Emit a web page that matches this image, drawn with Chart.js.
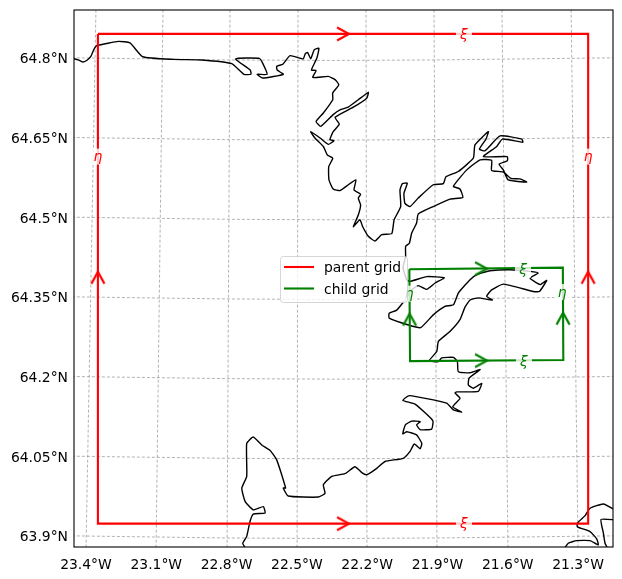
<!DOCTYPE html>
<html>
<head>
<meta charset="utf-8">
<style>
  html, body { margin: 0; padding: 0; background: #fff; }
  canvas { display: block; }
</style>
<script src="https://cdn.jsdelivr.net/npm/chart.js@4"></script>
</head>
<body>
<canvas id="myChart" width="622" height="579"></canvas>
<script>
// axis ticks
const xTicks = [-23.4, -23.1, -22.8, -22.5, -22.2, -21.9, -21.6, -21.3];
const xTickLabels = ['23.4°W', '23.1°W', '22.8°W', '22.5°W', '22.2°W', '21.9°W', '21.6°W', '21.3°W'];
const yTicks = [63.9, 64.05, 64.2, 64.35, 64.5, 64.65, 64.8];
const yTickLabels = ['63.9°N', '64.05°N', '64.2°N', '64.35°N', '64.5°N', '64.65°N', '64.8°N'];

// graticule, the meridians lean and the parallels sag a little
const meridianTop = [-23.357, -23.071, -22.785, -22.495, -22.205, -21.915, -21.625, -21.330];
const meridianBottom = [-23.4, -23.101, -22.798, -22.499, -22.201, -21.902, -21.599, -21.300];
const parallelLon = [-23.46, -22.8, -22.35, -21.9, -21.14];
const parallel639 = [63.9, 63.896, 63.895, 63.896, 63.9];
const parallel6405 = [64.05, 64.046, 64.045, 64.046, 64.05];
const parallel642 = [64.2, 64.196, 64.195, 64.196, 64.2];
const parallel6435 = [64.35, 64.346, 64.345, 64.346, 64.35];
const parallel645 = [64.5, 64.496, 64.495, 64.496, 64.5];
const parallel6465 = [64.65, 64.646, 64.645, 64.646, 64.65];
const parallel648 = [64.8, 64.796, 64.795, 64.796, 64.8];

// coastline
const coastLon = [-23.46, -23.433, -23.414, -23.397, -23.380, -23.366, -23.354, -23.312, -23.262, -23.212,
  -23.158, -23.027, -22.906, -22.778, -22.726, -22.696, -22.699, -22.761, -22.660, -22.646,
  -22.627, -22.669, -22.646, -22.558, -22.584, -22.586, -22.560, -22.529, -22.473, -22.464,
  -22.454, -22.441, -22.426, -22.406, -22.415, -22.438, -22.418, -22.432, -22.366, -22.337,
  -22.321, -22.347, -22.347, -22.387, -22.418, -22.398, -22.345, -22.316, -22.281, -22.238,
  -22.195, -22.202, -22.259, -22.337, -22.319, -22.345, -22.359, -22.342, -22.366, -22.401,
  -22.441, -22.423, -22.387, -22.370, -22.347, -22.364, -22.363, -22.345, -22.316, -22.287,
  -22.248, -22.256, -22.228, -22.238, -22.228, -22.238, -22.259, -22.231, -22.219, -22.195,
  -22.167, -22.138, -22.095, -22.085, -22.057, -22.060, -22.050, -22.029, -22.043, -22.039,
  -22.017, -21.982, -21.918, -21.875, -21.864, -21.811, -21.747, -21.740, -21.683, -21.693,
  -21.721, -21.697, -21.633, -21.540, -21.536, -21.623, -21.647, -21.704, -21.602, -21.602,
  -21.637, -21.619, -21.598, -21.519, -21.548, -21.587, -21.619, -21.669, -21.669, -21.718,
  -21.775, -21.832, -21.804, -21.792, -21.846, -21.918, -21.982, -21.989, -22.010, -22.020,
  -22.036, -22.036, -22.047, -22.031, -22.017, -21.946, -21.871, -21.910, -21.946, -21.982,
  -22.010, -22.039, -22.074, -22.106, -22.106, -22.024, -21.972, -21.918, -21.868, -21.832,
  -21.811, -21.761, -21.726, -21.676, -21.590, -21.505, -21.470, -21.505, -21.462, -21.434,
  -21.465, -21.491, -21.619, -21.669, -21.690, -21.666, -21.726, -21.761, -21.782, -21.804,
  -21.846, -21.896, -21.903, -21.935, -21.896, -21.882, -21.832, -21.815, -21.811, -21.761,
  -21.718, -21.765, -21.768, -21.747, -21.711, -21.726, -21.818, -21.825, -21.804, -21.835,
  -21.797, -21.832, -21.861, -22.020, -22.048, -21.996, -21.920, -21.925, -21.974, -21.989,
  -21.974, -22.010, -22.037, -22.048, -22.031, -21.989, -21.967, -21.974, -21.999, -22.017,
  -22.046, -22.124, -22.159, -22.202, -22.223, -22.252, -22.295, -22.351, -22.387, -22.380,
  -22.409, -22.537, -22.558, -22.548, -22.586, -22.615, -22.650, -22.686, -22.714, -22.714,
  -22.735, -22.721, -22.686, -22.643, -22.636, -22.686, -22.700, -22.714, -22.731, -22.717];
const coastLat = [64.799, 64.796, 64.792, 64.795, 64.802, 64.816, 64.823, 64.827, 64.831, 64.828,
  64.802, 64.797, 64.796, 64.789, 64.769, 64.769, 64.777, 64.798, 64.799, 64.790,
  64.769, 64.769, 64.762, 64.769, 64.777, 64.784, 64.788, 64.804, 64.798, 64.808,
  64.810, 64.798, 64.815, 64.818, 64.799, 64.777, 64.776, 64.763, 64.765, 64.759,
  64.749, 64.734, 64.721, 64.696, 64.680, 64.671, 64.693, 64.702, 64.707, 64.721,
  64.735, 64.724, 64.707, 64.688, 64.675, 64.661, 64.646, 64.644, 64.637, 64.649,
  64.661, 64.649, 64.633, 64.617, 64.611, 64.595, 64.570, 64.553, 64.550, 64.559,
  64.570, 64.551, 64.543, 64.536, 64.523, 64.504, 64.482, 64.495, 64.482, 64.464,
  64.455, 64.467, 64.469, 64.495, 64.520, 64.551, 64.563, 64.564, 64.545, 64.526,
  64.520, 64.536, 64.561, 64.563, 64.576, 64.586, 64.611, 64.636, 64.661, 64.647,
  64.628, 64.625, 64.653, 64.647, 64.641, 64.647, 64.633, 64.614, 64.614, 64.606,
  64.600, 64.589, 64.570, 64.566, 64.572, 64.573, 64.585, 64.588, 64.607, 64.608,
  64.589, 64.558, 64.553, 64.537, 64.534, 64.520, 64.506, 64.489, 64.470, 64.451,
  64.445, 64.426, 64.405, 64.382, 64.379, 64.388, 64.386, 64.376, 64.364, 64.371,
  64.363, 64.344, 64.325, 64.319, 64.310, 64.297, 64.292, 64.316, 64.332, 64.335,
  64.357, 64.382, 64.393, 64.399, 64.401, 64.398, 64.395, 64.385, 64.373, 64.381,
  64.360, 64.360, 64.374, 64.363, 64.351, 64.344, 64.348, 64.344, 64.331, 64.307,
  64.285, 64.266, 64.247, 64.230, 64.228, 64.235, 64.236, 64.228, 64.209, 64.207,
  64.213, 64.197, 64.184, 64.178, 64.187, 64.172, 64.171, 64.169, 64.159, 64.143,
  64.133, 64.137, 64.150, 64.164, 64.155, 64.148, 64.117, 64.101, 64.100, 64.109,
  64.115, 64.116, 64.109, 64.092, 64.096, 64.090, 64.074, 64.064, 64.073, 64.059,
  64.046, 64.040, 64.027, 64.015, 64.019, 64.030, 64.017, 64.012, 63.996, 63.980,
  63.973, 63.975, 63.990, 63.990, 64.043, 64.061, 64.071, 64.086, 64.074, 64.012,
  63.990, 63.965, 63.949, 63.955, 63.943, 63.941, 63.927, 63.899, 63.886, 63.875];
const islandLon = [-21.14, -21.192, -21.249, -21.270, -21.303, -21.303, -21.249, -21.220, -21.214, -21.249, -21.306, -21.342, -21.360];
const islandLat = [63.948, 63.960, 63.952, 63.938, 63.924, 63.917, 63.908, 63.894, 63.883, 63.891, 63.891, 63.886, 63.875];
const island2Lon = [-21.14, -21.202, -21.192, -21.185, -21.172];
const island2Lat = [63.930, 63.931, 63.905, 63.886, 63.875];

// grid outlines
const parentLon = [-23.349, -21.257, -21.257, -23.349, -23.349];
const parentLat = [64.845, 64.845, 63.923, 63.923, 64.845];
const childLon = [-22.020, -21.365, -21.363, -22.017, -22.020];
const childLat = [64.402, 64.405, 64.231, 64.229, 64.402];

// direction arrows
const parentArrowLon = [-22.303, -22.303, -23.349, -21.257];
const parentArrowLat = [64.845, 63.923, 64.386, 64.386];
const childArrowLon = [-21.714, -21.714, -22.019, -21.364];
const childArrowLat = [64.403, 64.230, 64.307, 64.309];
const arrowAngles = [0, 0, -90, -90];

// xi and eta labels
const labelText = ['ξ', 'ξ', 'η', 'η', 'ξ', 'ξ', 'η', 'η'];
const labelLon = [-21.787, -21.787, -23.349, -21.257, -21.535, -21.531, -22.021, -21.368];
const labelLat = [64.845, 63.923, 64.614, 64.614, 64.401, 64.229, 64.356, 64.359];
const labelColor = ['red', 'red', 'red', 'red', 'green', 'green', 'green', 'green'];

const legendLabels = ['parent grid', 'child grid'];
const legendColors = ['red', 'green'];

const FONT = '"DejaVu Sans"';
const pts = (xs, ys) => xs.map((x, i) => ({ x: x, y: ys[i] }));

function makeArrow(color) {
  const c = document.createElement('canvas');
  c.width = 28;
  c.height = 28;
  const g = c.getContext('2d');
  g.strokeStyle = color;
  g.lineWidth = 2.1;
  g.beginPath();
  g.moveTo(8, 7.5);
  g.lineTo(20, 14);
  g.lineTo(8, 20.5);
  g.stroke();
  return c;
}

function gridLine(data) {
  return {
    data: data, showLine: true, pointRadius: 0, order: 6,
    borderColor: 'rgba(128,128,128,0.75)', borderWidth: 0.8, borderDash: [3, 2]
  };
}
function coastLine(data) {
  return { data: data, showLine: true, pointRadius: 0, order: 5, borderColor: 'black', borderWidth: 1.4, tension: 0.15 };
}
function outline(data, color, order) {
  return { data: data, showLine: true, pointRadius: 0, order: order, borderColor: color, borderWidth: 2.1 };
}
function arrows(data, color) {
  return {
    data: data, showLine: false, order: 1,
    pointStyle: makeArrow(color), pointRotation: arrowAngles, pointRadius: 14
  };
}

const datasets = [];
xTicks.forEach((t, i) => {
  datasets.push(gridLine(pts([meridianTop[i], meridianBottom[i]], [64.9, 63.87])));
});
[parallel639, parallel6405, parallel642, parallel6435, parallel645, parallel6465, parallel648].forEach(p => {
  datasets.push(gridLine(pts(parallelLon, p)));
});
datasets.push(coastLine(pts(coastLon, coastLat)));
datasets.push(coastLine(pts(islandLon, islandLat)));
datasets.push(coastLine(pts(island2Lon, island2Lat)));
datasets.push(outline(pts(parentLon, parentLat), 'red', 3));
datasets.push(outline(pts(childLon, childLat), 'green', 2));
datasets.push(arrows(pts(parentArrowLon, parentArrowLat), 'red'));
datasets.push(arrows(pts(childArrowLon, childArrowLat), 'green'));

// frame, xi/eta labels and the legend in the middle of the map
const mapExtras = {
  id: 'mapExtras',
  afterDatasetsDraw(chart) {
    const ctx = chart.ctx;
    const a = chart.chartArea;
    const xs = chart.scales.x;
    const ys = chart.scales.y;
    ctx.save();

    ctx.font = 'italic 13.9px ' + FONT;
    ctx.textAlign = 'center';
    ctx.textBaseline = 'middle';
    labelText.forEach((t, i) => {
      const px = xs.getPixelForValue(labelLon[i]);
      const py = ys.getPixelForValue(labelLat[i]);
      ctx.fillStyle = 'rgba(255,255,255,0.8)';
      ctx.fillRect(px - 8, py - 8, 16, 16);
      ctx.fillStyle = labelColor[i];
      ctx.fillText(t, px, py + 1);
    });

    ctx.strokeStyle = 'black';
    ctx.lineWidth = 1.1;
    ctx.strokeRect(a.left, a.top, a.right - a.left, a.bottom - a.top);

    ctx.beginPath();
    ctx.roundRect(280.5, 256.5, 127, 46, 3);
    ctx.fillStyle = 'rgba(255,255,255,0.8)';
    ctx.fill();
    ctx.strokeStyle = 'rgba(204,204,204,0.8)';
    ctx.lineWidth = 1;
    ctx.stroke();
    ctx.font = '13.9px ' + FONT;
    ctx.textAlign = 'left';
    legendLabels.forEach((t, i) => {
      const ly = 267 + i * 21.5;
      ctx.strokeStyle = legendColors[i];
      ctx.lineWidth = 2.1;
      ctx.beginPath();
      ctx.moveTo(284, ly);
      ctx.lineTo(314, ly);
      ctx.stroke();
      ctx.fillStyle = '#000';
      ctx.fillText(t, 324, ly + 1.5);
    });
    ctx.restore();
  }
};

new Chart(document.getElementById('myChart').getContext('2d'), {
  type: 'scatter',
  data: { datasets: datasets },
  plugins: [mapExtras],
  options: {
    responsive: false,
    animation: false,
    devicePixelRatio: 1,
    events: [],
    layout: { autoPadding: false, padding: { top: 10, right: 9, left: 0, bottom: 0 } },
    plugins: { legend: { display: false }, tooltip: { enabled: false } },
    scales: {
      x: {
        type: 'linear',
        min: -23.451,
        max: -21.151,
        grid: { display: false, drawTicks: false },
        border: { display: false },
        afterBuildTicks: s => { s.ticks = xTicks.map(v => ({ value: v })); },
        afterFit: s => { s.height = 32; s.paddingLeft = 0; s.paddingRight = 0; },
        ticks: {
          callback: (v, i) => xTickLabels[i],
          font: { family: FONT, size: 13.9 },
          color: '#000',
          padding: 10,
          maxRotation: 0,
          autoSkip: false
        }
      },
      y: {
        type: 'linear',
        min: 63.879,
        max: 64.890,
        grid: { display: false, drawTicks: false },
        border: { display: false },
        afterBuildTicks: s => { s.ticks = yTicks.map(v => ({ value: v })); },
        afterFit: s => { s.width = 74; s.paddingTop = 0; s.paddingBottom = 0; },
        ticks: {
          callback: (v, i) => yTickLabels[i],
          font: { family: FONT, size: 13.9 },
          color: '#000',
          padding: 6,
          labelOffset: 2,
          autoSkip: false
        }
      }
    }
  }
});
</script>
</body>
</html>
